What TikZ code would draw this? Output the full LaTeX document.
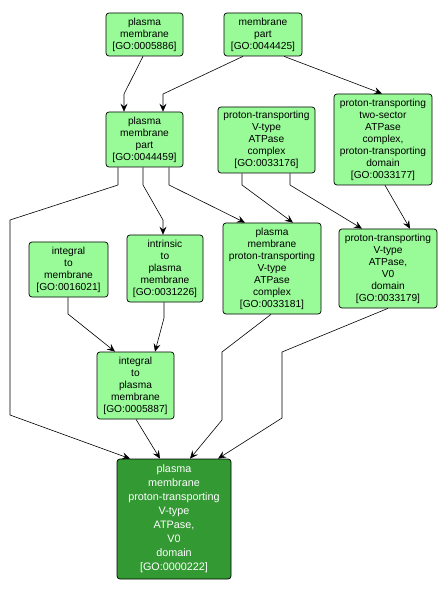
\documentclass[tikz,border=0pt]{standalone}
\usepackage{fontspec}
\setmainfont{Liberation Sans}
\usetikzlibrary{arrows.meta}
\definecolor{lightgo}{HTML}{98FB98}
\definecolor{darkgo}{HTML}{339933}
\tikzset{
  goterm/.style={draw=black, line width=0.7pt, rounded corners=3pt, fill=lightgo, align=center, inner sep=0pt,
    font=\fontsize{10.2}{12}\selectfont},
  goroot/.style={goterm, fill=darkgo, text=white, font=\fontsize{10.8}{14}\selectfont},
  edge/.style={draw=black, line width=0.6pt, -{Stealth[length=8pt,width=7pt,inset=3pt]}}
}
\begin{document}
\begin{tikzpicture}[x=1pt,y=-1pt]
\useasboundingbox (0,0) rectangle (447,593);
\node[goterm, minimum width=77, minimum height=43] (pm) at (144.5,34.5) {plasma\\membrane\\{[GO:0005886]}};
\node[goterm, minimum width=78, minimum height=43] (mp) at (263,34.5) {membrane\\part\\{[GO:0044425]}};
\node[goterm, minimum width=77, minimum height=55] (pmp) at (144.5,139.5) {plasma\\membrane\\part\\{[GO:0044459]}};
\node[goterm, minimum width=97, minimum height=66] (vc) at (266.5,140) {proton-transporting\\V-type\\ATPase\\complex\\{[GO:0033176]}};
\node[goterm, minimum width=98, minimum height=91] (ts) at (383,139.5) {proton-transporting\\two-sector\\ATPase\\complex,\\proton-transporting\\domain\\{[GO:0033177]}};
\node[goterm, minimum width=79, minimum height=55] (itm) at (68.5,269.5) {integral\\to\\membrane\\{[GO:0016021]}};
\node[goterm, minimum width=76, minimum height=67] (ipm) at (165,268.5) {intrinsic\\to\\plasma\\membrane\\{[GO:0031226]}};
\node[goterm, minimum width=98, minimum height=91] (pvc) at (272,268.5) {plasma\\membrane\\proton-transporting\\V-type\\ATPase\\complex\\{[GO:0033181]}};
\node[goterm, minimum width=98, minimum height=79] (v0) at (388,268.5) {proton-transporting\\V-type\\ATPase,\\V0\\domain\\{[GO:0033179]}};
\node[goterm, minimum width=77, minimum height=67] (itpm) at (135.5,385.5) {integral\\to\\plasma\\membrane\\{[GO:0005887]}};
\node[goroot, minimum width=114, minimum height=120] (bot) at (174,519) {plasma\\membrane\\proton-transporting\\V-type\\ATPase,\\V0\\domain\\{[GO:0000222]}};

\draw[edge] ([xshift=-1.5]pm.south) -- (124,94) -- ([xshift=-20.5]pmp.north);
\draw[edge] ([xshift=-20]mp.south) -- (163,94) -- ([xshift=18.5]pmp.north);
\draw[edge] ([xshift=21]mp.south) -- ([xshift=-1]ts.north);
\draw[edge] ([xshift=-26.5]pmp.south) -- (118,185) -- (10,220) -- (10,415) -- ([xshift=-44]bot.north);
\draw[edge] ([xshift=-1.5]pmp.south) -- (143,185) -- (163,220) -- ([xshift=-2]ipm.north);
\draw[edge] ([xshift=24.5]pmp.south) -- (169,185) -- ([xshift=-27]pvc.north);
\draw[edge] ([xshift=-24.5]vc.south) -- (242,185) -- ([xshift=21]pvc.north);
\draw[edge] ([xshift=23.5]vc.south) -- (290,185) -- ([xshift=-26]v0.north);
\draw[edge] ([xshift=2]ts.south) -- ([xshift=22]v0.north);
\draw[edge] ([xshift=-0.5]itm.south) -- (68,314) -- ([xshift=-20.5]itpm.north);
\draw[edge] ([xshift=-1]ipm.south) -- (164,318) -- ([xshift=19.5]itpm.north);
\draw[edge] ([xshift=-1]pvc.south) -- (222,352) -- (222,420) -- ([xshift=16]bot.north);
\draw[edge] (v0.south) -- (282,352) -- (282,418) -- ([xshift=44]bot.north);
\draw[edge] ([xshift=0.5]itpm.south) -- ([xshift=-14]bot.north);
\end{tikzpicture}
\end{document}
